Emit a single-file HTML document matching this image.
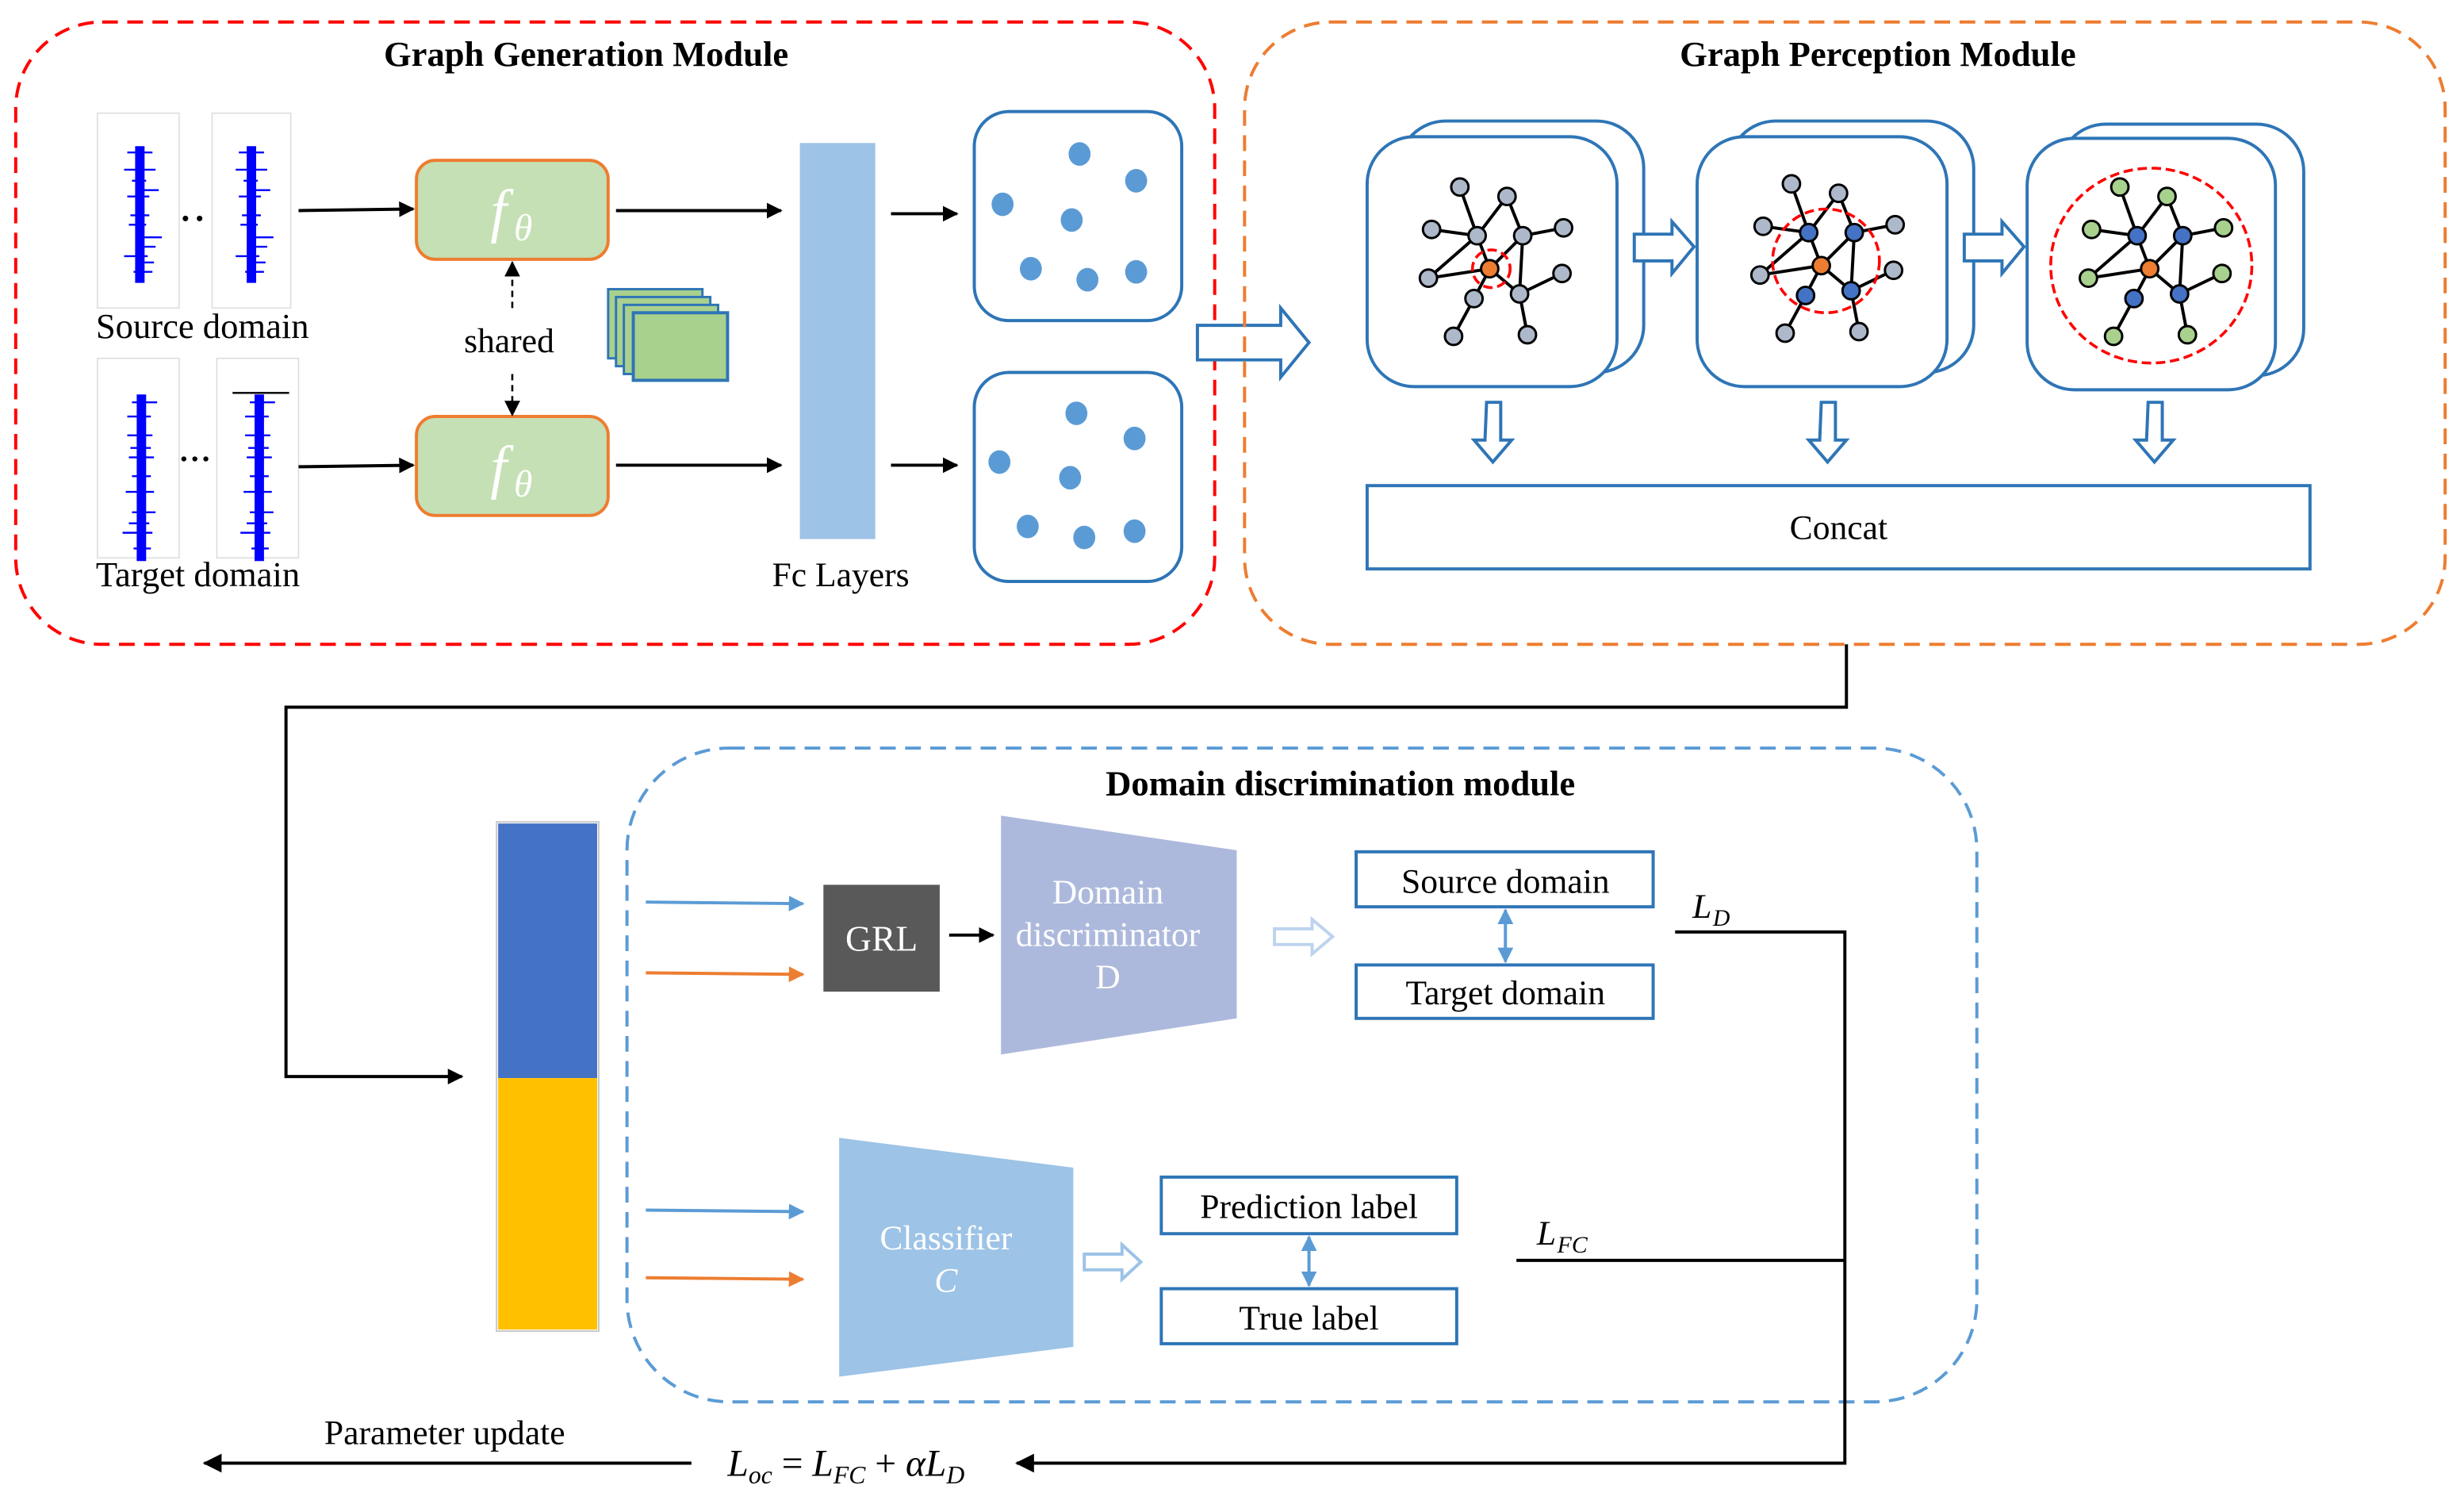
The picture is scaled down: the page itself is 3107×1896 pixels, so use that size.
<!DOCTYPE html>
<html><head><meta charset="utf-8"><style>
html,body{margin:0;padding:0;background:#fff;}
svg{display:block;}
text{font-family:"Liberation Serif",serif;}
</style></head><body>
<svg width="3107" height="1896" viewBox="0 0 1568 957" preserveAspectRatio="none" xmlns="http://www.w3.org/2000/svg">
<defs>
<marker id="ab" markerWidth="10" markerHeight="10" refX="9" refY="5" orient="auto" markerUnits="userSpaceOnUse"><path d="M0,0 L10,5 L0,10 z" fill="#000"/></marker>
<marker id="abl" markerWidth="12" markerHeight="12" refX="11" refY="6" orient="auto" markerUnits="userSpaceOnUse"><path d="M0,0 L12,6 L0,12 z" fill="#000"/></marker>
<marker id="mb" markerWidth="10" markerHeight="10" refX="9" refY="5" orient="auto" markerUnits="userSpaceOnUse"><path d="M0,0 L10,5 L0,10 z" fill="#5b9bd5"/></marker>
<marker id="mo" markerWidth="10" markerHeight="10" refX="9" refY="5" orient="auto" markerUnits="userSpaceOnUse"><path d="M0,0 L10,5 L0,10 z" fill="#ed7d31"/></marker>
<marker id="mbs" markerWidth="10" markerHeight="10" refX="9" refY="5" orient="auto-start-reverse" markerUnits="userSpaceOnUse"><path d="M0,0 L10,5 L0,10 z" fill="#5b9bd5"/></marker>
<g id="sig">
<rect x="-3" y="0" width="6" height="87" fill="#0000ff"/>
<g stroke="#0000ff" stroke-width="1.2">
<line x1="-8" y1="4" x2="8" y2="4"/><line x1="-10" y1="15" x2="10" y2="15"/><line x1="-5" y1="22" x2="4" y2="22"/>
<line x1="-8" y1="32" x2="6" y2="32"/><line x1="0" y1="58" x2="14" y2="58"/><line x1="0" y1="64" x2="10" y2="64"/>
<line x1="-4" y1="80" x2="8" y2="80"/><line x1="-6" y1="44" x2="6" y2="44"/><line x1="-10" y1="70" x2="5" y2="70"/>
<line x1="-7" y1="50" x2="4" y2="50"/><line x1="2" y1="28" x2="12" y2="28"/><line x1="2" y1="74" x2="9" y2="74"/>
</g></g>
<g id="sig2">
<rect x="-3" y="0" width="6" height="106" fill="#0000ff"/>
<g stroke="#0000ff" stroke-width="1.2">
<line x1="-6" y1="5" x2="10" y2="5"/><line x1="-9" y1="14" x2="6" y2="14"/><line x1="-9" y1="26" x2="7" y2="26"/>
<line x1="-8" y1="40" x2="8" y2="40"/><line x1="-6" y1="52" x2="6" y2="52"/><line x1="-10" y1="62" x2="8" y2="62"/>
<line x1="-6" y1="75" x2="9" y2="75"/><line x1="-12" y1="88" x2="7" y2="88"/><line x1="-5" y1="98" x2="6" y2="98"/>
<line x1="-7" y1="34" x2="6" y2="34"/><line x1="-8" y1="82" x2="5" y2="82"/>
</g></g>
</defs>

<!-- Graph Generation Module -->
<rect x="10" y="14" width="763" height="396" rx="55" fill="none" stroke="#ff0000" stroke-width="2" stroke-dasharray="10,6"/>
<text x="373" y="42" font-size="22.5" font-weight="bold" text-anchor="middle">Graph Generation Module</text>

<rect x="62" y="72" width="52" height="124" fill="#fff" stroke="#ddd" stroke-width="0.8"/>
<rect x="135" y="72" width="50" height="124" fill="#fff" stroke="#ddd" stroke-width="0.8"/>
<use href="#sig" x="89" y="93"/><use href="#sig" x="160" y="93"/>
<circle cx="118" cy="139" r="1.8"/><circle cx="127" cy="139" r="1.8"/>
<rect x="62" y="228" width="52" height="127" fill="#fff" stroke="#ddd" stroke-width="0.8"/>
<rect x="138" y="228" width="52" height="127" fill="#fff" stroke="#ddd" stroke-width="0.8"/>
<use href="#sig2" x="90" y="251"/><use href="#sig2" x="165" y="251"/>
<line x1="148" y1="250" x2="184" y2="250" stroke="#000" stroke-width="1.2"/>
<circle cx="117" cy="292" r="1.6"/><circle cx="124" cy="292" r="1.6"/><circle cx="131" cy="292" r="1.6"/>
<text x="61" y="215" font-size="22.5">Source domain</text>
<text x="61" y="373" font-size="22.5">Target domain</text>

<rect x="265" y="102" width="122" height="63" rx="12" fill="#c5e0b4" stroke="#ed7d31" stroke-width="2"/>
<rect x="265" y="265" width="122" height="63" rx="12" fill="#c5e0b4" stroke="#ed7d31" stroke-width="2"/>
<text x="312" y="147" font-size="38" font-style="italic" fill="#fff">f</text><text x="327" y="153" font-size="24" font-style="italic" fill="#fff">θ</text>
<text x="312" y="310" font-size="38" font-style="italic" fill="#fff">f</text><text x="327" y="316" font-size="24" font-style="italic" fill="#fff">θ</text>
<g stroke="#000" stroke-width="2" fill="none">
<line x1="190" y1="134" x2="263" y2="133" marker-end="url(#ab)"/>
<line x1="392" y1="134" x2="497" y2="134" marker-end="url(#ab)"/>
<line x1="190" y1="297" x2="263" y2="296" marker-end="url(#ab)"/>
<line x1="392" y1="296" x2="497" y2="296" marker-end="url(#ab)"/>
<line x1="567" y1="136" x2="609" y2="136" marker-end="url(#ab)"/>
<line x1="567" y1="296" x2="609" y2="296" marker-end="url(#ab)"/>
</g>
<g stroke="#000" stroke-width="1.3" stroke-dasharray="4,3">
<line x1="326" y1="196" x2="326" y2="167" marker-end="url(#ab)"/>
<line x1="326" y1="238" x2="326" y2="264" marker-end="url(#ab)"/>
</g>
<text x="324" y="224" font-size="22" text-anchor="middle">shared</text>
<g fill="#a9d18e" stroke="#2e75b6" stroke-width="1.5">
<rect x="387" y="184" width="60" height="44"/><rect x="392" y="189" width="60" height="44"/>
<rect x="397" y="194" width="60" height="44"/><rect x="403" y="199" width="60" height="43" stroke-width="2"/>
</g>
<rect x="509" y="91" width="48" height="252" fill="#9dc3e6"/>
<text x="535" y="373" font-size="22" text-anchor="middle">Fc Layers</text>

<rect x="620" y="71" width="132" height="133" rx="22" fill="#fff" stroke="#2e75b6" stroke-width="2"/>
<rect x="620" y="237" width="132" height="133" rx="22" fill="#fff" stroke="#2e75b6" stroke-width="2"/>
<g fill="#5b9bd5">
<ellipse cx="687" cy="98" rx="7" ry="7.5"/><ellipse cx="723" cy="115" rx="7" ry="7.5"/><ellipse cx="638" cy="130" rx="7" ry="7.5"/><ellipse cx="682" cy="140" rx="7" ry="7.5"/><ellipse cx="656" cy="171" rx="7" ry="7.5"/><ellipse cx="692" cy="178" rx="7" ry="7.5"/><ellipse cx="723" cy="173" rx="7" ry="7.5"/>
<ellipse cx="685" cy="263" rx="7" ry="7.5"/><ellipse cx="722" cy="279" rx="7" ry="7.5"/><ellipse cx="636" cy="294" rx="7" ry="7.5"/><ellipse cx="681" cy="304" rx="7" ry="7.5"/><ellipse cx="654" cy="335" rx="7" ry="7.5"/><ellipse cx="690" cy="342" rx="7" ry="7.5"/><ellipse cx="722" cy="338" rx="7" ry="7.5"/>
</g>
<path d="M762,207 L815,207 L815,196 L833,218 L815,240 L815,229 L762,229 Z" fill="#fff" stroke="#2e75b6" stroke-width="2"/>

<!-- Graph Perception Module -->
<rect x="792" y="14" width="764" height="396" rx="55" fill="none" stroke="#ed7d31" stroke-width="2" stroke-dasharray="10,6"/>
<text x="1195" y="42" font-size="22.5" font-weight="bold" text-anchor="middle">Graph Perception Module</text>

<g fill="#fff" stroke="#2e75b6" stroke-width="2">
<rect x="890" y="77" width="156" height="160" rx="30"/><rect x="870" y="87" width="159" height="159" rx="30"/>
<rect x="1100" y="77" width="156" height="160" rx="30"/><rect x="1080" y="87" width="159" height="159" rx="30"/>
<rect x="1310" y="79" width="156" height="160" rx="30"/><rect x="1290" y="88" width="158" height="160" rx="30"/>
</g>

<g id="g1">
<g stroke="#000" stroke-width="2">
<line x1="929" y1="119" x2="940" y2="150"/><line x1="959" y1="125" x2="940" y2="150"/><line x1="959" y1="125" x2="969" y2="150"/>
<line x1="911" y1="146" x2="940" y2="150"/><line x1="995" y1="145" x2="969" y2="150"/><line x1="940" y1="150" x2="948" y2="171"/>
<line x1="940" y1="150" x2="909" y2="177"/><line x1="948" y1="171" x2="909" y2="177"/><line x1="969" y1="150" x2="948" y2="171"/>
<line x1="969" y1="150" x2="967" y2="187"/><line x1="948" y1="171" x2="967" y2="187"/><line x1="948" y1="171" x2="938" y2="190"/>
<line x1="994" y1="174" x2="967" y2="187"/><line x1="938" y1="190" x2="925" y2="214"/><line x1="967" y1="187" x2="972" y2="213"/>
</g>
</g>
<use href="#g1" x="211" y="-2"/><use href="#g1" x="420" y="0"/>

<g stroke="#000" stroke-width="1.5">
<g fill="#adb9ca">
<circle cx="929" cy="119" r="5.5"/><circle cx="959" cy="125" r="5.5"/><circle cx="911" cy="146" r="5.5"/><circle cx="940" cy="150" r="5.5"/><circle cx="969" cy="150" r="5.5"/><circle cx="995" cy="145" r="5.5"/><circle cx="909" cy="177" r="5.5"/><circle cx="994" cy="174" r="5.5"/><circle cx="938" cy="190" r="5.5"/><circle cx="967" cy="187" r="5.5"/><circle cx="925" cy="214" r="5.5"/><circle cx="972" cy="213" r="5.5"/>
</g>
<circle cx="948" cy="171" r="5.5" fill="#ed7d31"/>
<g transform="translate(211,-2)">
<g fill="#adb9ca"><circle cx="929" cy="119" r="5.5"/><circle cx="959" cy="125" r="5.5"/><circle cx="911" cy="146" r="5.5"/><circle cx="995" cy="145" r="5.5"/><circle cx="909" cy="177" r="5.5"/><circle cx="994" cy="174" r="5.5"/><circle cx="925" cy="214" r="5.5"/><circle cx="972" cy="213" r="5.5"/></g>
<g fill="#4472c4"><circle cx="940" cy="150" r="5.5"/><circle cx="969" cy="150" r="5.5"/><circle cx="938" cy="190" r="5.5"/><circle cx="967" cy="187" r="5.5"/></g>
<circle cx="948" cy="171" r="5.5" fill="#ed7d31"/>
</g>
<g transform="translate(420,0)">
<g fill="#a9d18e"><circle cx="929" cy="119" r="5.5"/><circle cx="959" cy="125" r="5.5"/><circle cx="911" cy="146" r="5.5"/><circle cx="995" cy="145" r="5.5"/><circle cx="909" cy="177" r="5.5"/><circle cx="994" cy="174" r="5.5"/><circle cx="925" cy="214" r="5.5"/><circle cx="972" cy="213" r="5.5"/></g>
<g fill="#4472c4"><circle cx="940" cy="150" r="5.5"/><circle cx="969" cy="150" r="5.5"/><circle cx="938" cy="190" r="5.5"/><circle cx="967" cy="187" r="5.5"/></g>
<circle cx="948" cy="171" r="5.5" fill="#ed7d31"/>
</g>
</g>
<g fill="none" stroke="#ff0000" stroke-width="1.8" stroke-dasharray="6,3">
<circle cx="949" cy="171" r="12"/>
<ellipse cx="1162" cy="166" rx="34" ry="33"/>
<ellipse cx="1369" cy="169" rx="64" ry="62"/>
</g>

<g fill="#fff" stroke="#2e75b6" stroke-width="2">
<path d="M1040,149 L1064,149 L1064,141 L1078,157 L1064,174 L1064,166 L1040,166 Z"/>
<path d="M1250,149 L1274,149 L1274,141 L1288,157 L1274,174 L1274,166 L1250,166 Z"/>
<path d="M946,256 L955,256 L955,280 L962,280 L950,294 L938,280 L945,280 Z"/>
<path d="M1159,256 L1168,256 L1168,280 L1175,280 L1163,294 L1151,280 L1158,280 Z"/>
<path d="M1367,256 L1376,256 L1376,280 L1383,280 L1371,294 L1359,280 L1366,280 Z"/>
</g>
<rect x="870" y="309" width="600" height="53" fill="#fff" stroke="#2e75b6" stroke-width="2"/>
<text x="1170" y="343" font-size="22" text-anchor="middle">Concat</text>

<!-- connector -->
<polyline points="1175,410 1175,450 182,450 182,685 294,685" fill="none" stroke="#000" stroke-width="2" marker-end="url(#ab)"/>

<!-- Domain discrimination module -->
<rect x="399" y="476" width="859" height="416" rx="65" fill="none" stroke="#5b9bd5" stroke-width="2" stroke-dasharray="10,6"/>
<text x="853" y="506" font-size="22.5" font-weight="bold" text-anchor="middle">Domain discrimination module</text>

<rect x="316" y="523" width="65" height="324" fill="none" stroke="#c8c8c8" stroke-width="1"/>
<rect x="317" y="524" width="63" height="162" fill="#4472c4"/>
<rect x="317" y="686" width="63" height="160" fill="#ffc000"/>

<line x1="411" y1="574" x2="511" y2="575" stroke="#5b9bd5" stroke-width="2" marker-end="url(#mb)"/>
<line x1="411" y1="619" x2="511" y2="620" stroke="#ed7d31" stroke-width="2" marker-end="url(#mo)"/>
<line x1="411" y1="770" x2="511" y2="771" stroke="#5b9bd5" stroke-width="2" marker-end="url(#mb)"/>
<line x1="411" y1="813" x2="511" y2="814" stroke="#ed7d31" stroke-width="2" marker-end="url(#mo)"/>

<rect x="524" y="563" width="74" height="68" fill="#595959"/>
<text x="561" y="605" font-size="23" fill="#fff" text-anchor="middle">GRL</text>
<line x1="604" y1="595" x2="632" y2="595" stroke="#000" stroke-width="2" marker-end="url(#ab)"/>

<polygon points="637,519 787,541 787,648 637,671" fill="#adb9dc"/>
<text x="705" y="575" font-size="22" fill="#fff" text-anchor="middle">Domain</text>
<text x="705" y="602" font-size="22" fill="#fff" text-anchor="middle">discriminator</text>
<text x="705" y="629" font-size="22" fill="#fff" text-anchor="middle">D</text>
<path d="M811,591 L835,591 L835,585 L848,596 L835,607 L835,601 L811,601 Z" fill="#fff" stroke="#bdd3ee" stroke-width="2"/>

<rect x="863" y="542" width="189" height="35" fill="#fff" stroke="#2e75b6" stroke-width="2"/>
<rect x="863" y="614" width="189" height="34" fill="#fff" stroke="#2e75b6" stroke-width="2"/>
<text x="958" y="568" font-size="22" text-anchor="middle">Source domain</text>
<text x="958" y="639" font-size="22" text-anchor="middle">Target domain</text>
<line x1="958" y1="579" x2="958" y2="612" stroke="#5b9bd5" stroke-width="2" marker-start="url(#mbs)" marker-end="url(#mbs)"/>

<text x="1077" y="584" font-size="22" font-style="italic">L</text><text x="1090" y="589" font-size="15" font-style="italic">D</text>
<polyline points="1066,593 1174,593 1174,931 647,931" fill="none" stroke="#000" stroke-width="2" marker-end="url(#abl)"/>
<line x1="965" y1="802" x2="1174" y2="802" stroke="#000" stroke-width="2"/>
<text x="978" y="792" font-size="22" font-style="italic">L</text><text x="991" y="797" font-size="15" font-style="italic">FC</text>

<polygon points="534,724 683,743 683,857 534,876" fill="#9dc3e6"/>
<text x="602" y="795" font-size="22" fill="#fff" text-anchor="middle">Classifier</text>
<text x="602" y="822" font-size="22" fill="#fff" font-style="italic" text-anchor="middle">C</text>
<path d="M690,798 L714,798 L714,792 L726,803 L714,814 L714,808 L690,808 Z" fill="#fff" stroke="#9dc3e6" stroke-width="2"/>

<rect x="739" y="749" width="188" height="36" fill="#fff" stroke="#2e75b6" stroke-width="2"/>
<rect x="739" y="820" width="188" height="35" fill="#fff" stroke="#2e75b6" stroke-width="2"/>
<text x="833" y="775" font-size="22" text-anchor="middle">Prediction label</text>
<text x="833" y="846" font-size="22" text-anchor="middle">True label</text>
<line x1="833" y1="787" x2="833" y2="818" stroke="#5b9bd5" stroke-width="2" marker-start="url(#mbs)" marker-end="url(#mbs)"/>

<line x1="440" y1="931" x2="130" y2="931" stroke="#000" stroke-width="2" marker-end="url(#abl)"/>
<text x="283" y="919" font-size="22" text-anchor="middle">Parameter update</text>
<text x="463" y="939" font-size="24" font-style="italic">L<tspan font-size="16" dy="5">oc</tspan><tspan dy="-5" font-style="normal"> = </tspan>L<tspan font-size="16" dy="5">FC</tspan><tspan dy="-5" font-style="normal"> + </tspan>αL<tspan font-size="16" dy="5">D</tspan></text>
</svg>
</body></html>
